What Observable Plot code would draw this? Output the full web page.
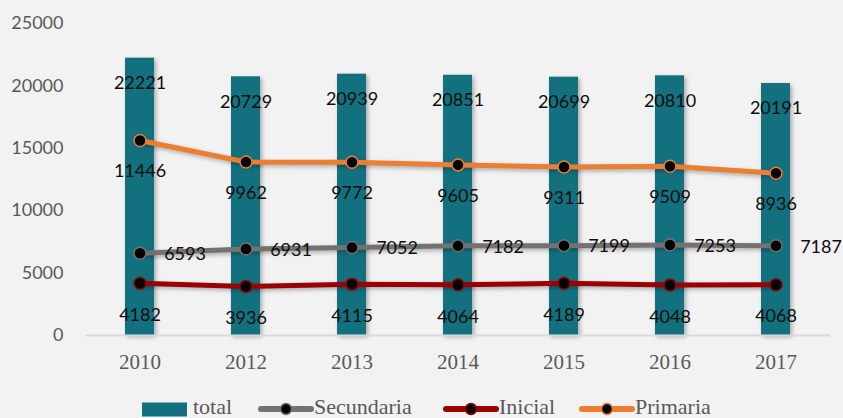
<!DOCTYPE html>
<html><head><meta charset="utf-8">
<script src="https://cdn.jsdelivr.net/npm/d3@7"></script>
<script src="https://cdn.jsdelivr.net/npm/@observablehq/plot@0.6"></script>
<style>
body{margin:0;background:#F2F2F2;}
#wrap{position:relative;width:843px;height:418px;overflow:hidden;background:#F2F2F2}
#legend{position:absolute;left:0;top:392px;width:843px;height:26px;font-family:"Liberation Serif",serif;font-size:22px;line-height:22px;color:#595959}
#legend .it{position:absolute;top:0;height:26px;display:flex;align-items:center;white-space:nowrap}
#legend svg{display:block}
</style></head><body><div id="wrap"><div id="chart"></div><div id="legend"></div></div>
<script>
const years = ["2010","2012","2013","2014","2015","2016","2017"];
const total = [22221,20729,20939,20851,20699,20810,20191];
const secundaria = [6593,6931,7052,7182,7199,7253,7187];
const inicial = [4182,3936,4115,4064,4189,4048,4068];
const primaria = [11446,9962,9772,9605,9311,9509,8936];
const yTicks = [0,5000,10000,15000,20000,25000];

const colors = {total:"#13717F", secundaria:"#767171", inicial:"#9B0000", primaria:"#ED7D31"};

// Primaria is drawn stacked on Inicial, as in the original chart
const table = years.map((year,i)=>({year, total:total[i], secundaria:secundaria[i], inicial:inicial[i], primaria:primaria[i], primariaStack:inicial[i]+primaria[i]}));

const labelFont = {fontSize:18, fontFamily:"Lato", fill:"#0D0D0D"};

const chart = Plot.plot({
  width:843, height:392,
  marginTop:23, marginBottom:57, marginLeft:85, marginRight:13,
  style:{background:"#F2F2F2", overflow:"visible"},
  x:{domain:years, paddingInner:0.727, paddingOuter:0.364},
  y:{domain:[0,25000]},
  marks:[
    Plot.barY(table,{x:"year", y:"total", fill:colors.total}),
    Plot.ruleY([0],{stroke:"#D9D9D9", strokeWidth:2}),
    Plot.axisY({ticks:yTicks, tickFormat:d=>String(d), tickSize:0, tickPadding:22, fontSize:18, fontFamily:"Lato", color:"#595959", label:null}),
    Plot.axisX({tickSize:0, tickPadding:19, fontSize:21, fontFamily:"Liberation Serif", color:"#595959", label:null}),
    Plot.lineY(table,{x:"year", y:"secundaria", stroke:colors.secundaria, strokeWidth:5}),
    Plot.lineY(table,{x:"year", y:"inicial", stroke:colors.inicial, strokeWidth:5}),
    Plot.lineY(table,{x:"year", y:"primariaStack", stroke:colors.primaria, strokeWidth:5}),
    Plot.dot(table,{x:"year", y:"secundaria", r:6, fill:"#000", stroke:colors.secundaria, strokeWidth:1.5}),
    Plot.dot(table,{x:"year", y:"inicial", r:6, fill:"#000", stroke:colors.inicial, strokeWidth:1.5}),
    Plot.dot(table,{x:"year", y:"primariaStack", r:6, fill:"#000", stroke:colors.primaria, strokeWidth:1.5}),
    Plot.text(table,{x:"year", y:"total", text:d=>String(d.total), dy:25, ...labelFont}),
    Plot.text(table,{x:"year", y:"primariaStack", text:d=>String(d.primaria), dy:31, ...labelFont}),
    Plot.text(table,{x:"year", y:"inicial", text:d=>String(d.inicial), dy:32, ...labelFont}),
    Plot.text(table,{x:"year", y:"secundaria", text:d=>String(d.secundaria), dx:45, dy:1, ...labelFont})
  ]
});
document.getElementById("chart").appendChild(chart);
chart.querySelectorAll('g[aria-label="bar"], g[aria-label="line"]').forEach(g=>{
  g.style.filter = "drop-shadow(2px 2px 2px rgba(0,0,0,0.3))";
});

// legend
const legend = document.getElementById("legend");
const items = [
  {name:"total", key:"total", type:"rect", left:142},
  {name:"Secundaria", key:"secundaria", type:"line", left:258},
  {name:"Inicial", key:"inicial", type:"line", left:443},
  {name:"Primaria", key:"primaria", type:"line", left:579}
];
items.forEach(it=>{
  const div = document.createElement("div");
  div.className = "it";
  div.style.left = it.left + "px";
  const c = colors[it.key];
  let sw;
  if (it.type==="rect") {
    sw = `<svg width="51" height="26"><rect x="0" y="10.5" width="45" height="14" fill="${c}"/></svg>`;
  } else {
    sw = `<svg width="56" height="26"><line x1="3" x2="53" y1="17" y2="17" stroke="${c}" stroke-width="6" stroke-linecap="round"/><circle cx="28" cy="17" r="5.5" fill="#000" stroke="${c}" stroke-width="1.5"/></svg>`;
  }
  div.innerHTML = sw + `<span style="position:relative;top:2px">${it.name}</span>`;
  legend.appendChild(div);
});
</script>
</body></html>
